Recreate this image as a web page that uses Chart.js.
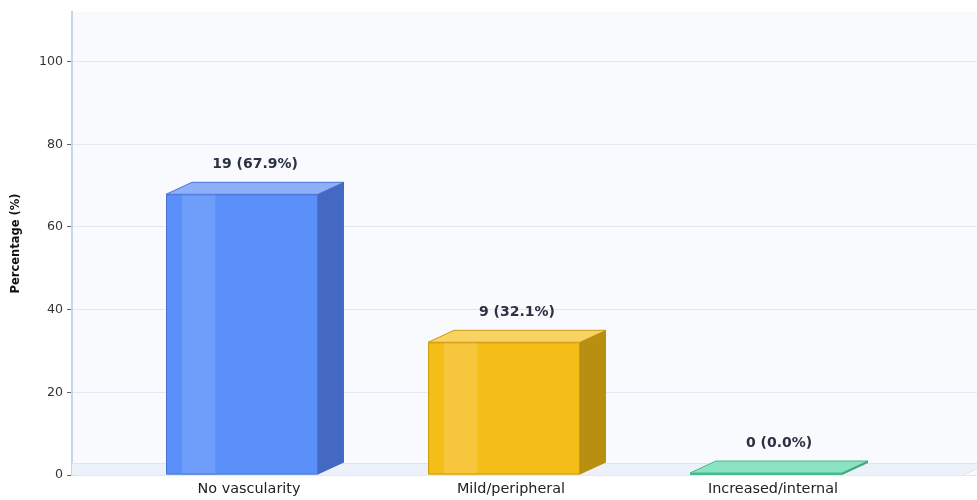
<!DOCTYPE html>
<html>
<head>
<meta charset="utf-8">
<script src="https://cdn.jsdelivr.net/npm/chart.js@4.4.1/dist/chart.umd.min.js"></script>
<style>
  html, body { margin: 0; padding: 0; background: #fff; overflow: hidden; }
  #chartBox { width: 977px; height: 500px; position: relative; }
</style>
</head>
<body>
<div id="chartBox"><canvas id="vascularityChart"></canvas></div>
<script>
/* DATA */
var categories = ["No vascularity", "Mild/peripheral", "Increased/internal"];
var patientCounts = [19, 9, 0];
var percentages = [67.9, 32.1, 0.0];
var yTicks = [0, 20, 40, 60, 80, 100];

/* BAR COLOURS (front, top, side, highlight, edge) */
var frontColors = ["#5b8ff9", "#f5bd17", "#5ad8a6"];
var topColors = ["#8eb0fb", "#f8d262", "#8be4c1"];
var sideColors = ["#4469c2", "#b88f10", "#3fa57e"];
var stripeColors = ["#6f9dfa", "#f7c63c", "#74dfb4"];
var edgeColors = ["#4a74cf", "#c99b0f", "#46b88a"];

// 3D box depth in px
var depthX = 26;
var depthY = 12;
// bars sit a little left of the category label
var labelShift = 7 / 262;

var points = percentages.map(function (p, i) { return { x: i, y: p }; });

function drawBox(ctx, left, right, top, bottom, i) {
  ctx.save();
  ctx.lineWidth = 1;
  ctx.lineJoin = "round";
  ctx.strokeStyle = edgeColors[i];

  // top face
  ctx.fillStyle = topColors[i];
  ctx.beginPath();
  ctx.moveTo(left, top);
  ctx.lineTo(left + depthX, top - depthY);
  ctx.lineTo(right + depthX, top - depthY);
  ctx.lineTo(right, top);
  ctx.closePath();
  ctx.fill();
  ctx.stroke();

  // side face
  ctx.fillStyle = sideColors[i];
  ctx.beginPath();
  ctx.moveTo(right, top);
  ctx.lineTo(right + depthX, top - depthY);
  ctx.lineTo(right + depthX, bottom - depthY);
  ctx.lineTo(right, bottom);
  ctx.closePath();
  ctx.fill();

  // front face + highlight stripe
  ctx.fillStyle = frontColors[i];
  ctx.fillRect(left, top, right - left, bottom - top);
  var w = right - left;
  ctx.fillStyle = stripeColors[i];
  ctx.fillRect(left + w * 0.105, top, w * 0.22, bottom - top);
  ctx.strokeRect(left + 0.5, top + 0.5, w - 1, bottom - top - 1);
  ctx.restore();
}

var box3dPlugin = {
  id: "box3d",
  beforeDraw: function (chart) {
    var ctx = chart.ctx, a = chart.chartArea;
    ctx.save();
    ctx.fillStyle = "#f9fafd";
    ctx.fillRect(a.left, a.top, a.right - a.left, a.bottom - a.top);
    ctx.restore();
  },
  beforeDatasetsDraw: function (chart) {
    // floor band
    var ctx = chart.ctx, a = chart.chartArea;
    var frontRight = a.right - 14;
    ctx.save();
    ctx.fillStyle = "#edf1fa";
    ctx.beginPath();
    ctx.moveTo(a.left, a.bottom);
    ctx.lineTo(a.left, a.bottom - depthY);
    ctx.lineTo(frontRight + depthX, a.bottom - depthY);
    ctx.lineTo(frontRight, a.bottom);
    ctx.closePath();
    ctx.fill();
    ctx.strokeStyle = "#dde4f1";
    ctx.lineWidth = 1;
    ctx.beginPath();
    ctx.moveTo(a.left, a.bottom - depthY + 0.5);
    ctx.lineTo(a.right, a.bottom - depthY + 0.5);
    ctx.moveTo(frontRight, a.bottom);
    ctx.lineTo(frontRight + depthX, a.bottom - depthY);
    ctx.stroke();
    ctx.restore();
  },
  afterDatasetsDraw: function (chart) {
    var ctx = chart.ctx;
    var meta = chart.getDatasetMeta(0);
    meta.data.forEach(function (el, i) {
      var left = el.x - el.width / 2;
      var right = el.x + el.width / 2;
      var bottom = el.base;
      var top = Math.min(el.y, bottom - 2);
      drawBox(ctx, left, right, top, bottom, i);

      ctx.save();
      ctx.font = "bold 14px 'DejaVu Sans'";
      ctx.fillStyle = "#2a3142";
      ctx.textAlign = "center";
      ctx.textBaseline = "middle";
      ctx.fillText(patientCounts[i] + " (" + percentages[i].toFixed(1) + "%)",
        el.x + depthX / 2, top - depthY - 18);
      ctx.restore();
    });
  }
};

var ctx = document.getElementById("vascularityChart");
var myChart = new Chart(ctx, {
  type: "bar",
  data: {
    datasets: [{
      label: "Percentage",
      data: points,
      backgroundColor: "rgba(0,0,0,0)",
      borderWidth: 0,
      barPercentage: 0.58,
      categoryPercentage: 1
    }]
  },
  options: {
    responsive: true,
    maintainAspectRatio: false,
    animation: false,
    layout: { padding: { top: 12, left: 0, right: 0, bottom: 0 } },
    plugins: {
      legend: { display: false },
      tooltip: { enabled: false }
    },
    scales: {
      x: {
        type: "linear",
        offset: false,
        min: (72 - 242) / 262,
        max: (977 - 242) / 262,
        grid: { display: false, drawTicks: false },
        border: { display: false },
        afterBuildTicks: function (s) {
          s.ticks = categories.map(function (c, i) { return { value: i + labelShift }; });
        },
        afterFit: function (s) { s.height = 25; },
        ticks: {
          autoSkip: false,
          maxRotation: 0,
          padding: 6,
          color: "#222",
          font: { family: "'DejaVu Sans'", size: 14.4 },
          callback: function (v) { return categories[Math.round(v)]; }
        }
      },
      y: {
        min: 0,
        max: 112,
        afterBuildTicks: function (s) {
          s.ticks = yTicks.map(function (v) { return { value: v }; });
        },
        afterFit: function (s) { s.width = 72; },
        grid: { color: "#e3e8f2", tickColor: "#666", tickLength: 5 },
        border: { color: "#c9d5e8", width: 2 },
        ticks: {
          padding: 4,
          color: "#333",
          font: { family: "'DejaVu Sans'", size: 12.6 }
        },
        title: {
          display: true,
          text: "Percentage (%)",
          color: "#111",
          padding: { top: 9, bottom: 4 },
          font: { family: "'DejaVu Sans'", size: 11.5, weight: "bold" }
        }
      }
    }
  },
  plugins: [box3dPlugin]
});
</script>
</body>
</html>
